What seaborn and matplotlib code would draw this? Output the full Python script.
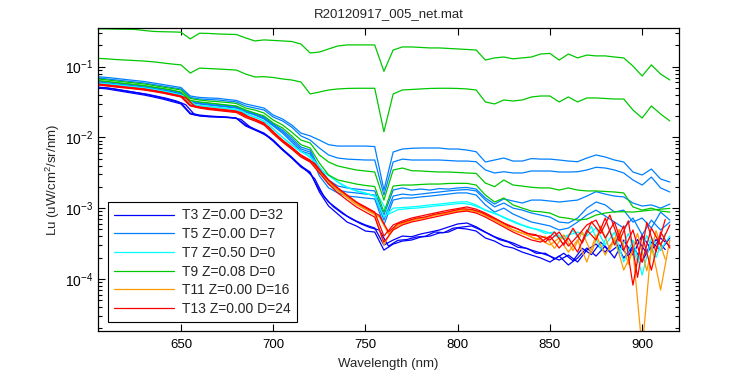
import matplotlib
matplotlib.use("Agg")
import matplotlib.pyplot as plt
import pandas as pd
import seaborn as sns
from matplotlib.lines import Line2D
from matplotlib.ticker import LogLocator, NullFormatter, NullLocator, FixedLocator

# ---------------- data ----------------
WAVELENGTH = list(range(605, 916, 5))                 # nm, 63 samples
WAVELENGTH_ALT = [w + 2.5 for w in range(605, 911, 5)]  # nm, 62 samples (607.5 ... 912.5)

G1 = [0.342, 0.342, 0.339, 0.338, 0.336, 0.325, 0.315, 0.312, 0.310, 0.307,
      0.247, 0.297, 0.295, 0.290, 0.287, 0.285, 0.255, 0.231, 0.239, 0.235,
      0.231, 0.227, 0.209, 0.156, 0.161, 0.178, 0.196, 0.203, 0.203, 0.203,
      0.203, 0.0860, 0.172, 0.190, 0.190, 0.187, 0.184, 0.184, 0.181, 0.178,
      0.175, 0.172, 0.124, 0.133, 0.137, 0.129, 0.133, 0.137, 0.151, 0.154,
      0.124, 0.151, 0.133, 0.146, 0.142, 0.142, 0.137, 0.133, 0.102, 0.0738,
      0.106, 0.0787, 0.0648]
G2 = [0.131, 0.129, 0.126, 0.124, 0.122, 0.120, 0.117, 0.113, 0.109, 0.106,
      0.0812, 0.0955, 0.0941, 0.0927, 0.0911, 0.0896, 0.0787, 0.0715, 0.0722, 0.0703,
      0.0670, 0.0648, 0.0607, 0.0411, 0.0438, 0.0468, 0.0484, 0.0492, 0.0495, 0.0495,
      0.0495, 0.0120, 0.0411, 0.0468, 0.0476, 0.0484, 0.0492, 0.0495, 0.0495, 0.0492,
      0.0484, 0.0468, 0.0317, 0.0297, 0.0338, 0.0327, 0.0338, 0.0373, 0.0385, 0.0385,
      0.0317, 0.0373, 0.0317, 0.0361, 0.0361, 0.0355, 0.0349, 0.0349, 0.0244, 0.0188,
      0.0278, 0.0214, 0.0171]
G3 = [0.0670, 0.0648, 0.0627, 0.0607, 0.0588, 0.0569, 0.0541, 0.0515, 0.0492, 0.0468,
      0.0355, 0.0338, 0.0327, 0.0320, 0.0312, 0.0302, 0.0260, 0.0244, 0.0221, 0.0176,
      0.0150, 0.0119, 9.17e-3, 8.34e-3, 5.64e-3, 4.49e-3, 3.94e-3, 3.69e-3, 3.46e-3, 3.35e-3,
      3.24e-3, 1.30e-3, 3.46e-3, 3.69e-3, 3.38e-3, 3.35e-3, 3.29e-3, 3.24e-3, 3.24e-3, 3.19e-3,
      3.14e-3, 3.10e-3, 2.26e-3, 2.01e-3, 2.50e-3, 2.12e-3, 2.05e-3, 1.97e-3, 1.93e-3, 1.93e-3,
      1.80e-3, 1.93e-3, 1.80e-3, 1.75e-3, 1.75e-3, 1.72e-3, 1.69e-3, 1.64e-3, 1.04e-3, 9.37e-4,
      1.00e-3, 9.08e-4, 8.79e-4]
G4 = [0.0637, 0.0617, 0.0598, 0.0578, 0.0560, 0.0541, 0.0515, 0.0492, 0.0468, 0.0438,
      0.0333, 0.0317, 0.0307, 0.0297, 0.0287, 0.0278, 0.0244, 0.0221, 0.0201, 0.0160,
      0.0136, 0.0105, 7.89e-3, 7.08e-3, 4.34e-3, 2.94e-3, 2.50e-3, 2.34e-3, 2.19e-3, 2.09e-3,
      2.02e-3, 8.79e-4, 2.05e-3, 2.12e-3, 2.12e-3, 2.16e-3, 2.19e-3, 2.19e-3, 2.23e-3, 2.24e-3,
      2.24e-3, 2.12e-3, 1.53e-3, 1.22e-3, 1.39e-3, 1.11e-3, 1.00e-3, 9.08e-4, 8.88e-4, 8.52e-4,
      7.47e-4, 7.17e-4, 6.77e-4, 7.00e-4, 7.98e-4, 8.52e-4, 8.88e-4, 8.88e-4, 8.79e-4, 9.08e-4,
      9.37e-4, 9.67e-4, 9.90e-4]
B1 = [0.0721, 0.0703, 0.0681, 0.0658, 0.0637, 0.0617, 0.0588, 0.0560, 0.0533, 0.0507,
      0.0385, 0.0367, 0.0361, 0.0357, 0.0344, 0.0333, 0.0297, 0.0278, 0.0260, 0.0207,
      0.0182, 0.0150, 0.0115, 0.0105, 9.17e-3, 7.89e-3, 7.54e-3, 7.54e-3, 7.54e-3, 7.54e-3,
      7.42e-3, 1.80e-3, 6.21e-3, 6.85e-3, 7.01e-3, 7.08e-3, 7.08e-3, 7.08e-3, 6.85e-3, 6.85e-3,
      6.62e-3, 6.27e-3, 4.49e-3, 4.79e-3, 5.11e-3, 4.63e-3, 4.63e-3, 5.02e-3, 4.93e-3, 4.93e-3,
      4.79e-3, 4.63e-3, 4.53e-3, 5.11e-3, 5.64e-3, 5.28e-3, 4.79e-3, 4.49e-3, 3.24e-3, 2.94e-3,
      3.57e-3, 2.58e-3, 2.34e-3]
B2 = [0.0692, 0.0670, 0.0648, 0.0627, 0.0607, 0.0588, 0.0560, 0.0533, 0.0507, 0.0484,
      0.0367, 0.0349, 0.0344, 0.0338, 0.0327, 0.0317, 0.0278, 0.0260, 0.0244, 0.0194,
      0.0171, 0.0140, 0.0105, 9.17e-3, 7.08e-3, 5.64e-3, 5.11e-3, 4.93e-3, 4.86e-3, 4.79e-3,
      4.79e-3, 1.53e-3, 4.49e-3, 4.93e-3, 4.79e-3, 4.79e-3, 4.79e-3, 4.79e-3, 4.71e-3, 4.63e-3,
      4.63e-3, 4.53e-3, 3.46e-3, 3.14e-3, 3.27e-3, 3.14e-3, 3.14e-3, 3.35e-3, 3.35e-3, 3.35e-3,
      3.24e-3, 3.24e-3, 3.27e-3, 3.46e-3, 3.78e-3, 3.69e-3, 3.46e-3, 3.14e-3, 2.50e-3, 2.12e-3,
      2.75e-3, 1.93e-3, 1.69e-3]
B3 = [0.0627, 0.0607, 0.0588, 0.0569, 0.0551, 0.0533, 0.0507, 0.0484, 0.0460, 0.0431,
      0.0327, 0.0312, 0.0302, 0.0292, 0.0282, 0.0274, 0.0240, 0.0218, 0.0194, 0.0155,
      0.0127, 9.8e-3, 7.30e-3, 6.62e-3, 3.69e-3, 2.50e-3, 2.05e-3, 1.93e-3, 1.86e-3, 1.80e-3,
      1.75e-3, 7.98e-4, 1.80e-3, 1.93e-3, 1.80e-3, 1.86e-3, 1.80e-3, 1.89e-3, 1.86e-3, 1.93e-3,
      1.96e-3, 1.86e-3, 1.39e-3, 1.14e-3, 1.35e-3, 1.26e-3, 1.18e-3, 1.30e-3, 1.30e-3, 1.26e-3,
      1.22e-3, 1.26e-3, 1.30e-3, 1.48e-3, 1.71e-3, 1.58e-3, 1.48e-3, 1.44e-3, 1.18e-3, 1.07e-3,
      1.11e-3, 1.00e-3, 1.14e-3]
B4 = [0.0607, 0.0588, 0.0569, 0.0551, 0.0533, 0.0515, 0.0492, 0.0468, 0.0446, 0.0417,
      0.0317, 0.0302, 0.0292, 0.0282, 0.0274, 0.0265, 0.0232, 0.0211, 0.0188, 0.0150,
      0.0121, 9.17e-3, 6.85e-3, 6.21e-3, 3.24e-3, 2.19e-3, 1.80e-3, 1.69e-3, 1.64e-3, 1.58e-3,
      1.53e-3, 6.77e-4, 1.48e-3, 1.58e-3, 1.53e-3, 1.58e-3, 1.64e-3, 1.69e-3, 1.75e-3, 1.80e-3,
      1.83e-3, 1.75e-3, 1.30e-3, 1.04e-3, 1.18e-3, 1.00e-3, 9.37e-4, 8.52e-4, 7.98e-4, 7.47e-4,
      6.36e-4, 6.16e-4, 7.24e-4, 1.00e-3, 1.22e-3, 1.11e-3, 8.79e-4, 9.37e-4, 6.36e-4, 7.24e-4,
      5.23e-4, 8.79e-4, 6.77e-4]
B5 = [0.0598, 0.0578, 0.0560, 0.0541, 0.0524, 0.0507, 0.0484, 0.0460, 0.0438, 0.0411,
      0.0312, 0.0297, 0.0287, 0.0278, 0.0269, 0.0260, 0.0228, 0.0207, 0.0182, 0.0145,
      0.0115, 8.6e-3, 6.43e-3, 5.83e-3, 2.85e-3, 1.93e-3, 1.64e-3, 1.48e-3, 1.44e-3, 1.39e-3,
      1.35e-3, 5.78e-4, 1.30e-3, 1.39e-3, 1.39e-3, 1.44e-3, 1.48e-3, 1.53e-3, 1.58e-3, 1.64e-3,
      1.64e-3, 1.53e-3, 1.11e-3, 8.79e-4, 1.00e-3, 8.25e-4, 7.24e-4, 6.36e-4, 5.97e-4, 5.60e-4,
      4.90e-4, 5.23e-4, 6.36e-4, 7.98e-4, 9.37e-4, 7.73e-4, 6.36e-4, 5.23e-4, 7.24e-4, 4.17e-4,
      6.77e-4, 4.90e-4, 6.36e-4]
C1 = [0.0588, 0.0569, 0.0551, 0.0533, 0.0515, 0.0499, 0.0476, 0.0453, 0.0424, 0.0397,
      0.0297, 0.0282, 0.0274, 0.0265, 0.0256, 0.0248, 0.0214, 0.0194, 0.0171, 0.0131,
      0.0101, 7.89e-3, 6.21e-3, 5.45e-3, 3.46e-3, 2.94e-3, 2.34e-3, 1.99e-3, 1.75e-3, 1.64e-3,
      1.48e-3, 7.47e-4, 1.00e-3, 1.02e-3, 1.04e-3, 1.07e-3, 1.11e-3, 1.14e-3, 1.18e-3, 1.22e-3,
      1.23e-3, 1.11e-3, 9.37e-4, 8.52e-4, 7.47e-4, 6.57e-4, 5.78e-4, 5.23e-4, 4.90e-4, 4.45e-4,
      3.78e-4, 4.17e-4, 4.59e-4, 4.03e-4, 5.23e-4, 3.01e-4, 4.59e-4, 1.73e-4, 3.54e-4, 1.13e-4,
      3.78e-4, 2.55e-4, 4.03e-4]
C2 = [0.0578, 0.0560, 0.0542, 0.0524, 0.0507, 0.0489, 0.0465, 0.0438, 0.0410, 0.0380,
      0.0288, 0.0276, 0.0268, 0.0260, 0.0252, 0.0240, 0.0203, 0.0182, 0.0152, 0.0114,
      8.8e-3, 7.0e-3, 5.8e-3, 4.6e-3, 3.2e-3, 2.6e-3, 2.1e-3, 1.84e-3, 1.68e-3, 1.55e-3,
      1.40e-3, 8.2e-4, 9.5e-4, 9.8e-4, 1.00e-3, 1.03e-3, 1.07e-3, 1.10e-3, 1.14e-3, 1.17e-3,
      1.12e-3, 1.00e-3, 8.8e-4, 7.9e-4, 6.8e-4, 6.0e-4, 5.4e-4, 5.0e-4, 4.4e-4, 4.6e-4,
      3.6e-4, 4.8e-4, 3.3e-4, 5.5e-4, 2.6e-4, 4.9e-4, 2.3e-4, 4.4e-4, 1.7e-4, 4.1e-4,
      2.0e-4, 4.4e-4]
R1 = [0.0569, 0.0551, 0.0533, 0.0515, 0.0499, 0.0484, 0.0460, 0.0438, 0.0411, 0.0385,
      0.0287, 0.0269, 0.0260, 0.0252, 0.0244, 0.0236, 0.0201, 0.0182, 0.0160, 0.0119,
      9.17e-3, 7.30e-3, 5.64e-3, 4.79e-3, 3.46e-3, 2.50e-3, 1.93e-3, 1.53e-3, 1.22e-3, 1.04e-3,
      8.79e-4, 4.03e-4, 5.78e-4, 6.57e-4, 7.24e-4, 7.73e-4, 8.25e-4, 8.79e-4, 9.37e-4, 9.85e-4,
      1.04e-3, 9.67e-4, 8.52e-4, 7.24e-4, 6.16e-4, 5.41e-4, 4.74e-4, 4.17e-4, 4.03e-4, 3.54e-4,
      4.59e-4, 2.91e-4, 4.03e-4, 5.78e-4, 6.77e-4, 3.78e-4, 6.36e-4, 2.55e-4, 4.90e-4, 1.73e-4,
      5.23e-4, 3.01e-4, 5.78e-4]
R2 = [0.0551, 0.0533, 0.0515, 0.0499, 0.0484, 0.0468, 0.0446, 0.0424, 0.0397, 0.0373,
      0.0278, 0.0260, 0.0248, 0.0240, 0.0232, 0.0225, 0.0191, 0.0171, 0.0150, 0.0112,
      8.6e-3, 6.85e-3, 5.28e-3, 4.49e-3, 3.14e-3, 2.19e-3, 1.64e-3, 1.30e-3, 1.04e-3, 8.79e-4,
      7.47e-4, 3.31e-4, 4.90e-4, 5.78e-4, 6.36e-4, 6.77e-4, 7.24e-4, 7.73e-4, 8.25e-4, 8.79e-4,
      9.08e-4, 8.52e-4, 7.47e-4, 6.36e-4, 5.41e-4, 4.59e-4, 4.03e-4, 3.54e-4, 3.31e-4, 4.03e-4,
      2.73e-4, 3.78e-4, 2.39e-4, 4.90e-4, 3.54e-4, 7.24e-4, 3.01e-4, 5.60e-4, 8.15e-5, 4.17e-4,
      1.33e-4, 4.59e-4, 2.73e-4]
R3 = [0.0555, 0.0537, 0.0520, 0.0503, 0.0488, 0.0470, 0.0446, 0.0420, 0.0395, 0.0365,
      0.0275, 0.0262, 0.0252, 0.0244, 0.0236, 0.0226, 0.0190, 0.0168, 0.0140, 0.0104,
      7.9e-3, 6.3e-3, 5.0e-3, 4.3e-3, 2.9e-3, 2.15e-3, 1.70e-3, 1.36e-3, 1.10e-3, 9.3e-4,
      7.9e-4, 4.6e-4, 6.0e-4, 6.6e-4, 7.2e-4, 7.5e-4, 8.2e-4, 8.6e-4, 9.2e-4, 9.8e-4,
      9.6e-4, 8.8e-4, 7.6e-4, 6.6e-4, 5.6e-4, 5.1e-4, 4.4e-4, 4.2e-4, 3.3e-4, 4.6e-4,
      3.0e-4, 5.2e-4, 3.2e-4, 6.4e-4, 4.4e-4, 8.0e-4, 3.4e-4, 6.6e-4, 1.05e-4, 6.3e-4,
      2.4e-4, 6.9e-4]
O1 = [0.0560, 0.0541, 0.0524, 0.0507, 0.0492, 0.0476, 0.0453, 0.0431, 0.0404, 0.0379,
      0.0282, 0.0265, 0.0256, 0.0248, 0.0240, 0.0232, 0.0197, 0.0176, 0.0155, 0.0115,
      8.88e-3, 7.08e-3, 5.45e-3, 4.63e-3, 3.29e-3, 2.34e-3, 1.77e-3, 1.41e-3, 1.12e-3, 9.53e-4,
      8.10e-4, 3.01e-4, 5.23e-4, 6.16e-4, 6.77e-4, 7.24e-4, 7.73e-4, 8.25e-4, 8.79e-4, 9.37e-4,
      9.67e-4, 9.08e-4, 7.98e-4, 6.77e-4, 5.78e-4, 4.90e-4, 4.45e-4, 3.90e-4, 3.54e-4, 3.01e-4,
      3.78e-4, 2.39e-4, 3.54e-4, 1.73e-4, 4.17e-4, 2.17e-4, 3.78e-4, 1.33e-4, 2.55e-4, 1.0e-5,
      3.01e-4, 6.95e-5, 3.54e-4]
O2 = [0.0548, 0.0530, 0.0513, 0.0497, 0.0481, 0.0463, 0.0440, 0.0414, 0.0389, 0.0360,
      0.0271, 0.0258, 0.0248, 0.0240, 0.0232, 0.0222, 0.0186, 0.0164, 0.0137, 0.0101,
      7.7e-3, 6.1e-3, 4.9e-3, 4.2e-3, 2.8e-3, 2.05e-3, 1.62e-3, 1.30e-3, 1.05e-3, 8.9e-4,
      7.5e-4, 4.3e-4, 5.7e-4, 6.3e-4, 6.9e-4, 7.3e-4, 7.9e-4, 8.3e-4, 8.8e-4, 9.3e-4,
      9.2e-4, 8.5e-4, 7.3e-4, 6.2e-4, 5.3e-4, 4.6e-4, 4.2e-4, 3.6e-4, 4.0e-4, 2.7e-4,
      4.2e-4, 2.5e-4, 4.6e-4, 2.3e-4, 5.6e-4, 2.6e-4, 5.0e-4, 1.6e-4, 4.4e-4, 1.3e-4,
      4.8e-4, 1.9e-4]
D1 = [0.0499, 0.0484, 0.0460, 0.0438, 0.0417, 0.0397, 0.0373, 0.0349, 0.0322, 0.0297,
      0.0214, 0.0201, 0.0196, 0.0194, 0.0191, 0.0186, 0.0145, 0.0127, 0.0112, 8.88e-3,
      6.62e-3, 5.11e-3, 3.81e-3, 3.14e-3, 1.80e-3, 1.22e-3, 9.67e-4, 7.73e-4, 6.57e-4, 5.78e-4,
      5.23e-4, 3.01e-4, 3.54e-4, 4.03e-4, 3.94e-4, 4.31e-4, 4.59e-4, 4.90e-4, 5.41e-4, 5.97e-4,
      6.16e-4, 5.45e-4, 4.59e-4, 3.94e-4, 3.54e-4, 3.21e-4, 2.82e-4, 2.55e-4, 2.32e-4, 2.10e-4,
      1.84e-4, 2.17e-4, 1.73e-4, 2.55e-4, 3.10e-4, 2.39e-4, 3.54e-4, 1.97e-4, 2.91e-4, 1.73e-4,
      3.31e-4, 2.55e-4, 3.78e-4]
D2 = [0.0515, 0.0499, 0.0476, 0.0453, 0.0431, 0.0411, 0.0385, 0.0361, 0.0333, 0.0307,
      0.0221, 0.0207, 0.0201, 0.0197, 0.0194, 0.0188, 0.0150, 0.0131, 0.0115, 9.17e-3,
      6.85e-3, 5.28e-3, 3.94e-3, 3.24e-3, 1.69e-3, 1.07e-3, 8.25e-4, 6.36e-4, 5.60e-4, 4.74e-4,
      4.59e-4, 2.55e-4, 3.10e-4, 3.42e-4, 3.54e-4, 3.90e-4, 4.03e-4, 4.45e-4, 4.59e-4, 5.23e-4,
      5.06e-4, 4.74e-4, 3.78e-4, 3.42e-4, 2.91e-4, 2.73e-4, 2.39e-4, 2.17e-4, 1.97e-4, 1.73e-4,
      2.10e-4, 1.57e-4, 1.97e-4, 2.73e-4, 2.10e-4, 2.91e-4, 1.97e-4, 3.54e-4, 2.17e-4, 4.17e-4,
      2.55e-4, 3.78e-4, 2.91e-4]
D3 = [0.0507, 0.0491, 0.0468, 0.0446, 0.0424, 0.0404, 0.0379, 0.0355, 0.0327, 0.0290,
      0.0208, 0.0199, 0.0196, 0.0193, 0.0190, 0.0180, 0.0140, 0.0120, 0.0102, 7.7e-3,
      5.9e-3, 4.5e-3, 3.5e-3, 2.6e-3, 1.45e-3, 1.05e-3, 8.4e-4, 7.0e-4, 6.0e-4, 5.3e-4,
      4.9e-4, 2.9e-4, 3.5e-4, 3.6e-4, 3.9e-4, 4.0e-4, 4.6e-4, 4.5e-4, 5.2e-4, 5.4e-4,
      5.6e-4, 4.9e-4, 4.2e-4, 3.6e-4, 3.3e-4, 2.8e-4, 2.7e-4, 2.3e-4, 2.3e-4, 1.9e-4,
      2.3e-4, 1.8e-4, 2.7e-4, 2.2e-4, 3.3e-4, 2.4e-4, 3.0e-4, 2.1e-4, 3.6e-4, 2.3e-4,
      3.6e-4, 2.6e-4]

GROUP_LABELS = ["T3 Z=0.00 D=32", "T5 Z=0.00 D=7", "T7 Z=0.50 D=0",
                "T9 Z=0.08 D=0", "T11 Z=0.00 D=16", "T13 Z=0.00 D=24"]
GROUP_COLORS = ["#0000FF", "#0080FF", "#00FFFF", "#00C800", "#FF9900", "#FF0000"]

# (name, group index, wavelength grid, values) -- drawn in this order
SPECTRA = [
    ("D1", 0, WAVELENGTH, D1), ("D2", 0, WAVELENGTH, D2), ("D3", 0, WAVELENGTH_ALT, D3),
    ("B1", 1, WAVELENGTH, B1), ("B2", 1, WAVELENGTH, B2), ("B3", 1, WAVELENGTH, B3),
    ("B4", 1, WAVELENGTH, B4), ("B5", 1, WAVELENGTH, B5),
    ("C1", 2, WAVELENGTH, C1), ("C2", 2, WAVELENGTH_ALT, C2),
    ("G1", 3, WAVELENGTH, G1), ("G2", 3, WAVELENGTH, G2), ("G3", 3, WAVELENGTH, G3),
    ("G4", 3, WAVELENGTH, G4),
    ("O1", 4, WAVELENGTH, O1), ("O2", 4, WAVELENGTH_ALT, O2),
    ("R1", 5, WAVELENGTH, R1), ("R2", 5, WAVELENGTH, R2), ("R3", 5, WAVELENGTH_ALT, R3),
]

rows = []
for name, g, wls, vals in SPECTRA:
    for wl, v in zip(wls, vals):
        rows.append({"wavelength": wl, "Lu": v, "spectrum": name})
df = pd.DataFrame(rows)
order = [s[0] for s in SPECTRA]
palette = {s[0]: GROUP_COLORS[s[1]] for s in SPECTRA}

# ---------------- styling ----------------
sns.set_style("ticks")
plt.rcParams["font.family"] = ["Liberation Sans", "DejaVu Sans"]
plt.rcParams["mathtext.fontset"] = "custom"
plt.rcParams["mathtext.rm"] = "Liberation Sans"
plt.rcParams["mathtext.it"] = "Liberation Sans"
plt.rcParams["mathtext.bf"] = "Liberation Sans"
plt.rcParams["axes.unicode_minus"] = False

fig = plt.figure(figsize=(7.5, 3.75), dpi=100)
fig.patch.set_facecolor("white")
ax = fig.add_axes([0.1307, 0.1173, 0.7747, 0.808])

sns.lineplot(data=df, x="wavelength", y="Lu", hue="spectrum", hue_order=order,
             palette=palette, estimator=None, sort=False, legend=False,
             linewidth=0.9, ax=ax)

ax.set_yscale("log")
ax.set_xlim(605, 920)
ax.set_ylim(1.83e-5, 0.352)

ax.xaxis.set_major_locator(FixedLocator([650, 700, 750, 800, 850, 900]))
ax.xaxis.set_minor_locator(NullLocator())
ax.yaxis.set_major_locator(LogLocator(base=10, numticks=12))
ax.yaxis.set_minor_locator(LogLocator(base=10, subs=range(2, 10), numticks=12))
ax.yaxis.set_minor_formatter(NullFormatter())

ax.tick_params(which="both", direction="in", top=True, right=True,
               width=0.8, colors="black")
ax.tick_params(axis="x", labelsize=9.5, pad=6)
ax.tick_params(axis="y", labelsize=10)
ax.tick_params(which="major", length=5)
ax.tick_params(which="minor", length=3)
for sp in ax.spines.values():
    sp.set_visible(True)
    sp.set_linewidth(0.9)
    sp.set_color("black")

ax.set_title("R20120917_005_net.mat", fontsize=9.5, pad=8)
ax.set_xlabel("Wavelength (nm)", fontsize=9.5, labelpad=5)
ax.set_ylabel("Lu (uW/cm$^2$/sr/nm)", fontsize=9.5, labelpad=2)

handles = [Line2D([0], [0], color=c, lw=0.9) for c in GROUP_COLORS]
leg = ax.legend(handles, GROUP_LABELS, loc="lower left",
                bbox_to_anchor=(0.017, 0.029), borderaxespad=0,
                frameon=True, fancybox=False, framealpha=1,
                edgecolor="black", fontsize=10, handlelength=4.3,
                handletextpad=0.55, labelspacing=0.34, borderpad=0.45)
leg.get_frame().set_linewidth(0.8)

fig.savefig("out.png", dpi=100, facecolor="white")
